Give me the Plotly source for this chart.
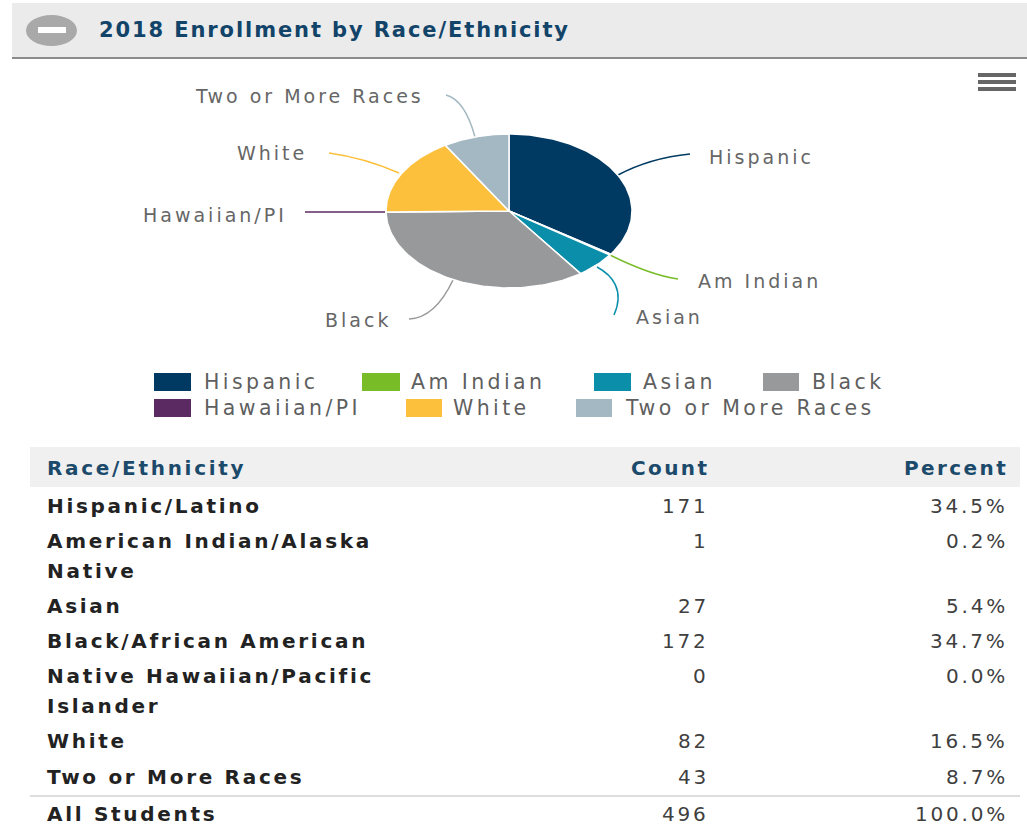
import numpy as np
import plotly.graph_objects as go

# ---- data ----
title = "2018 Enrollment by Race/Ethnicity"
slice_labels = ["Hispanic", "Am Indian", "Asian", "Black", "Hawaiian/PI", "White", "Two or More Races"]
slice_values = [171, 1, 27, 172, 0, 82, 43]
slice_colors = ["#003a63", "#78bc27", "#0a8eaa", "#98999b", "#5c2a62", "#fdc03c", "#a3b8c2"]
table_header = ["Race/Ethnicity", "Count", "Percent"]
table_names = ["Hispanic/Latino", "American Indian/Alaska<br>Native", "Asian", "Black/African American",
               "Native Hawaiian/Pacific<br>Islander", "White", "Two or More Races", "All Students"]
table_counts = ["171", "1", "27", "172", "0", "82", "43", "496"]
table_percents = ["34.5%", "0.2%", "5.4%", "34.7%", "0.0%", "16.5%", "8.7%", "100.0%"]

# ---- layout constants (pixel positions on the page) ----
W, H = 1027, 837
CX, CY, RX, RY = 509, 211, 123, 77
FONT = "DejaVu Sans"
GREY_TEXT = "#666666"
NAVY = "#1c4a6b"
label_pos = [(761, 157), (759, 281), (669, 317), (358, 320), (215, 215), (272, 153), (309, 96)]
leader_paths = [
    "M 618 175 Q 650 158 690 154",
    "M 608 254 Q 650 275 678 279",
    "M 597 267 C 612 275 625 290 614 315",
    "M 453 280 Q 435 318 409 319",
    "M 305 212 L 385 212",
    "M 329 153 Q 365 158 399 173",
    "M 446 95 Q 465 100 475 137",
]
legend_boxes = [(154, 191, 373, 391), (362, 400, 373, 391), (594, 631, 373, 391), (763, 799, 373, 391),
                (154, 191, 399, 417), (406, 442, 399, 417), (576, 612, 399, 417)]
legend_text_x = [202, 409, 641, 810, 202, 451, 623]
legend_text_y = [382, 382, 382, 382, 408, 408, 408]
row_y = [506, 541, 606, 641, 676, 741, 777, 814]
LINE_GAP = 30

fig = go.Figure()

# Elliptical pie: wedges computed from the values, placed by the axes
angle = np.cumsum([0] + slice_values) / sum(slice_values) * 2 * np.pi
for i, lab in enumerate(slice_labels):
    t = np.linspace(angle[i], angle[i + 1], 90)
    xs = np.r_[CX, CX + RX * np.sin(t), CX]
    ys = np.r_[CY, CY - RY * np.cos(t), CY]
    fig.add_trace(go.Scatter(x=xs, y=ys, mode="lines", fill="toself", fillcolor=slice_colors[i],
                             line=dict(color="white", width=1.5), name=lab, showlegend=False,
                             hoverinfo="text", text=f"{lab}: {slice_values[i]}"))

shapes, notes = [], []
def rect(x0, x1, y0, y1, color):
    shapes.append(dict(type="rect", x0=x0, x1=x1, y0=y0, y1=y1, fillcolor=color, line_width=0, layer="below"))
def line(x0, x1, y0, y1, color, w):
    shapes.append(dict(type="line", x0=x0, x1=x1, y0=y0, y1=y1, line=dict(color=color, width=w), layer="below"))
def text(x, y, s, size, color, spacing, anchor="left", bold=False):
    body = f"<b>{s}</b>" if bold else s
    notes.append(dict(x=x, y=y, text=f'<span style="letter-spacing:{spacing}px">{body}</span>',
                      showarrow=False, xanchor=anchor, yanchor="middle", align="left",
                      font=dict(family=FONT, size=size, color=color)))

# title band
rect(12, W, 3, 57, "#ebebeb")
line(12, W, 58, 58, "#666666", 1.5)
shapes.append(dict(type="circle", x0=26, x1=77, y0=15, y1=46, fillcolor="#a9a9a9", line_width=0))
shapes.append(dict(type="rect", x0=38, x1=66, y0=27, y1=33, fillcolor="#ffffff", line_width=0))
text(97, 30, title, 21, "#12446a", 1.9, bold=True)

# hamburger menu
for yy in (75, 82, 89):
    line(978, 1016, yy, yy, "#666666", 4)

# labels and leaders
for i, lab in enumerate(slice_labels):
    text(label_pos[i][0], label_pos[i][1], lab, 19, GREY_TEXT, 3, anchor="center")
    shapes.append(dict(type="path", path=leader_paths[i], line=dict(color=slice_colors[i], width=1.5), layer="below"))

# legend
for i, lab in enumerate(slice_labels):
    b = legend_boxes[i]
    rect(b[0], b[1], b[2], b[3], slice_colors[i])
    text(legend_text_x[i], legend_text_y[i], lab, 20.5, "#5f5f5f", 3.4)

# table
rect(30, 1020, 447, 487, "#f0f0f0")
text(45, 468, table_header[0], 20, NAVY, 2.7, bold=True)
text(711, 468, table_header[1], 20, NAVY, 2.4, anchor="right", bold=True)
text(1010, 468, table_header[2], 20, NAVY, 2.4, anchor="right", bold=True)
line(30, 1020, 796, 796, "#dddddd", 2)
for name, cnt, pct, y in zip(table_names, table_counts, table_percents, row_y):
    for k, part in enumerate(name.split("<br>")):
        text(45, y + k * LINE_GAP, part, 20, "#222222", 2.7, bold=True)
    text(711, y, cnt, 20, "#3f3f3f", 2.8, anchor="right")
    text(1010, y, pct, 20, "#3f3f3f", 2.8, anchor="right")

fig.update_layout(
    width=W, height=H, autosize=False, margin=dict(l=0, r=0, t=0, b=0),
    paper_bgcolor="white", plot_bgcolor="white", showlegend=False,
    xaxis=dict(range=[0, W], visible=False, fixedrange=True),
    yaxis=dict(range=[H, 0], visible=False, fixedrange=True),
    shapes=shapes, annotations=notes,
)
fig.write_html("out.html", config=dict(displayModeBar=False),
               post_script="document.body.style.margin='0';")
